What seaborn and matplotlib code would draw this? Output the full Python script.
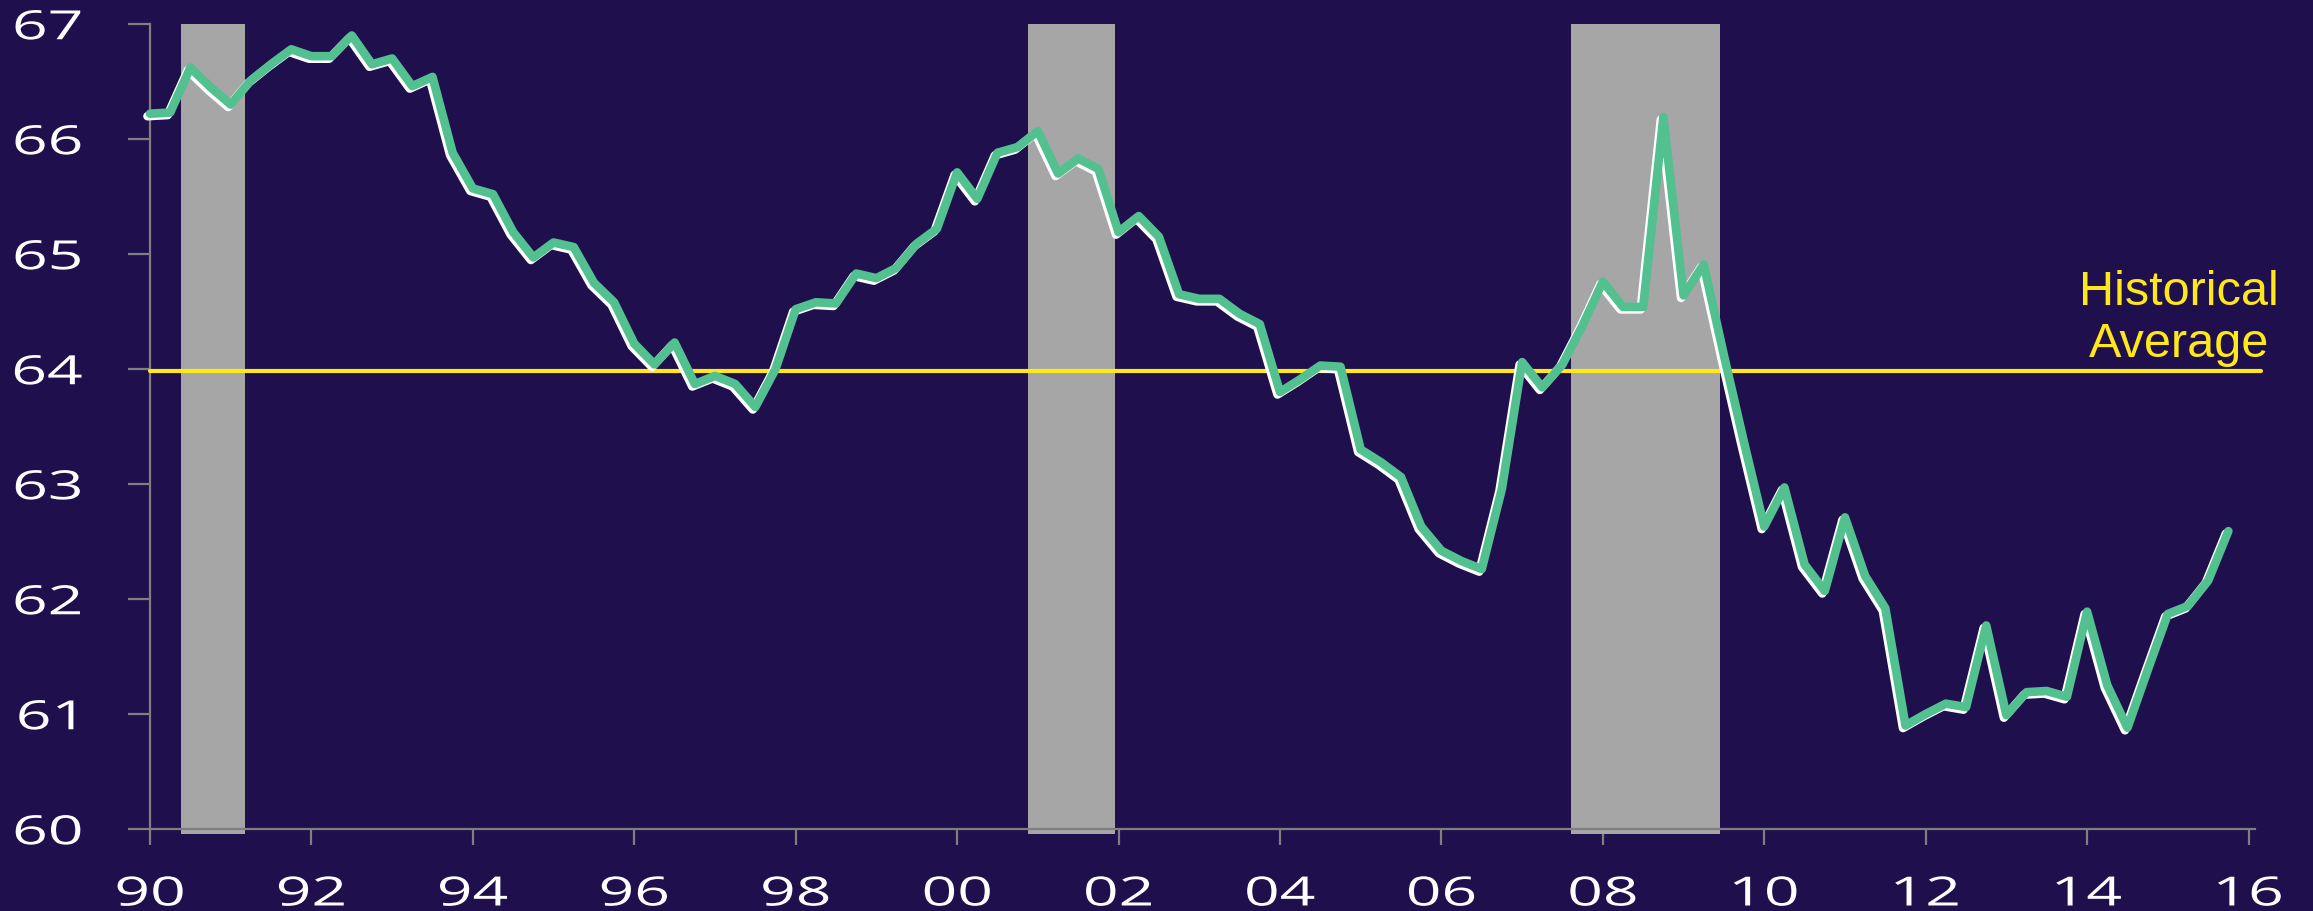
import numpy as np
import seaborn as sns
import matplotlib.pyplot as plt
import matplotlib.patheffects as pe
from matplotlib.transforms import Affine2D

# quarterly participation rate, 1990Q1 .. 2015Q4
participation = [66.22, 66.23, 66.62, 66.45, 66.30, 66.51, 66.65, 66.78,
                 66.72, 66.72, 66.90, 66.65, 66.70, 66.46, 66.54, 65.88,
                 65.57, 65.52, 65.19, 64.97, 65.10, 65.06, 64.75, 64.58,
                 64.22, 64.04, 64.23, 63.87, 63.94, 63.87, 63.67, 64.00,
                 64.52, 64.58, 64.57, 64.83, 64.79, 64.88, 65.09, 65.22,
                 65.71, 65.48, 65.88, 65.93, 66.07, 65.70, 65.83, 65.74,
                 65.19, 65.33, 65.15, 64.65, 64.61, 64.61, 64.48, 64.39,
                 63.80, 63.91, 64.03, 64.02, 63.30, 63.19, 63.06, 62.63,
                 62.42, 62.33, 62.26, 62.96, 64.06, 63.84, 64.04, 64.38,
                 64.76, 64.54, 64.54, 66.19, 64.64, 64.91, 64.12, 63.36,
                 62.63, 62.97, 62.30, 62.07, 62.71, 62.20, 61.92, 60.90,
                 61.00, 61.09, 61.06, 61.77, 60.99, 61.19, 61.20, 61.15,
                 61.89, 61.25, 60.88, 61.38, 61.87, 61.94, 62.16, 62.59]
quarters = 1990 + 0.25 * np.arange(len(participation))

hist_avg = 63.98
recessions = [(1990.39, 1991.18), (2000.88, 2001.95), (2007.61, 2009.45)]

tick_years = list(range(1990, 2017, 2))
tick_labels = [f"{y % 100:02d}" for y in tick_years]
y_ticks = [60, 61, 62, 63, 64, 65, 66, 67]

bg = '#1F0F4C'
green = '#52C08F'
yellow = '#FFE81A'
axis_grey = '#7F7F7F'


class Stretch(pe.AbstractPathEffect):
    """widen text horizontally around its left/center/right edge"""
    def __init__(self, sx, anchor='center'):
        super().__init__()
        self.sx = sx
        self.anchor = anchor

    def draw_path(self, renderer, gc, tpath, affine, rgbFace=None):
        ext = tpath.get_extents()
        x0 = {'left': ext.x0, 'right': ext.x1,
              'center': (ext.x0 + ext.x1) / 2}[self.anchor]
        t = Affine2D().translate(-x0, 0).scale(self.sx, 1).translate(x0, 0)
        renderer.draw_path(gc, tpath, t + affine, rgbFace)


sns.set_style('ticks', {'axes.facecolor': bg, 'figure.facecolor': bg})
plt.rcParams['font.family'] = ['Open Sans', 'DejaVu Sans']

fig = plt.figure(figsize=(23.13, 9.12), dpi=100)
ax = fig.add_axes([0.06485, 0.0899, 0.91007, 0.8827])

#%% recession bars
for start, end in recessions:
    ax.axvspan(start, end, ymin=-0.006, ymax=1, color='#A6A6A6',
               lw=0, zorder=1, clip_on=False)

#%% historical average
ax.plot([1990, 2016.15], [hist_avg, hist_avg], color=yellow, lw=3,
        zorder=3, clip_on=False)
ax.text(2015.14, 64.03, 'Historical\nAverage', color=yellow,
        family='Liberation Sans', fontsize=35, ha='center', va='bottom',
        multialignment='center', linespacing=1.2)

#%% participation line with white edge
sns.lineplot(x=quarters, y=participation, ax=ax, color=green, lw=6.2,
             zorder=4, clip_on=False,
             path_effects=[pe.SimpleLineShadow(offset=(-1.8, -1.8),
                                               shadow_color='white', alpha=1),
                           pe.Normal()])

ax.set_xlim(1990, 2016.08)
ax.set_ylim(60, 67)
ax.set_xticks(tick_years)
ax.set_xticklabels(tick_labels)
ax.set_yticks(y_ticks)
ax.set_xlabel('')
ax.set_ylabel('')

for side in ['top', 'right']:
    ax.spines[side].set_visible(False)
for side in ['left', 'bottom']:
    ax.spines[side].set_color(axis_grey)
    ax.spines[side].set_linewidth(1.6)

ax.tick_params(axis='x', length=11.5, width=1.6, color=axis_grey,
               labelcolor='white', labelsize=29, pad=21.6)
ax.tick_params(axis='y', length=15.8, width=1.6, color=axis_grey,
               labelcolor='white', labelsize=29, pad=33)

for lbl in ax.get_xticklabels():
    lbl.set_path_effects([Stretch(1.55, 'center')])
for lbl in ax.get_yticklabels():
    lbl.set_path_effects([Stretch(1.55, 'right')])

plt.savefig('out.png', dpi=100, facecolor=bg)
